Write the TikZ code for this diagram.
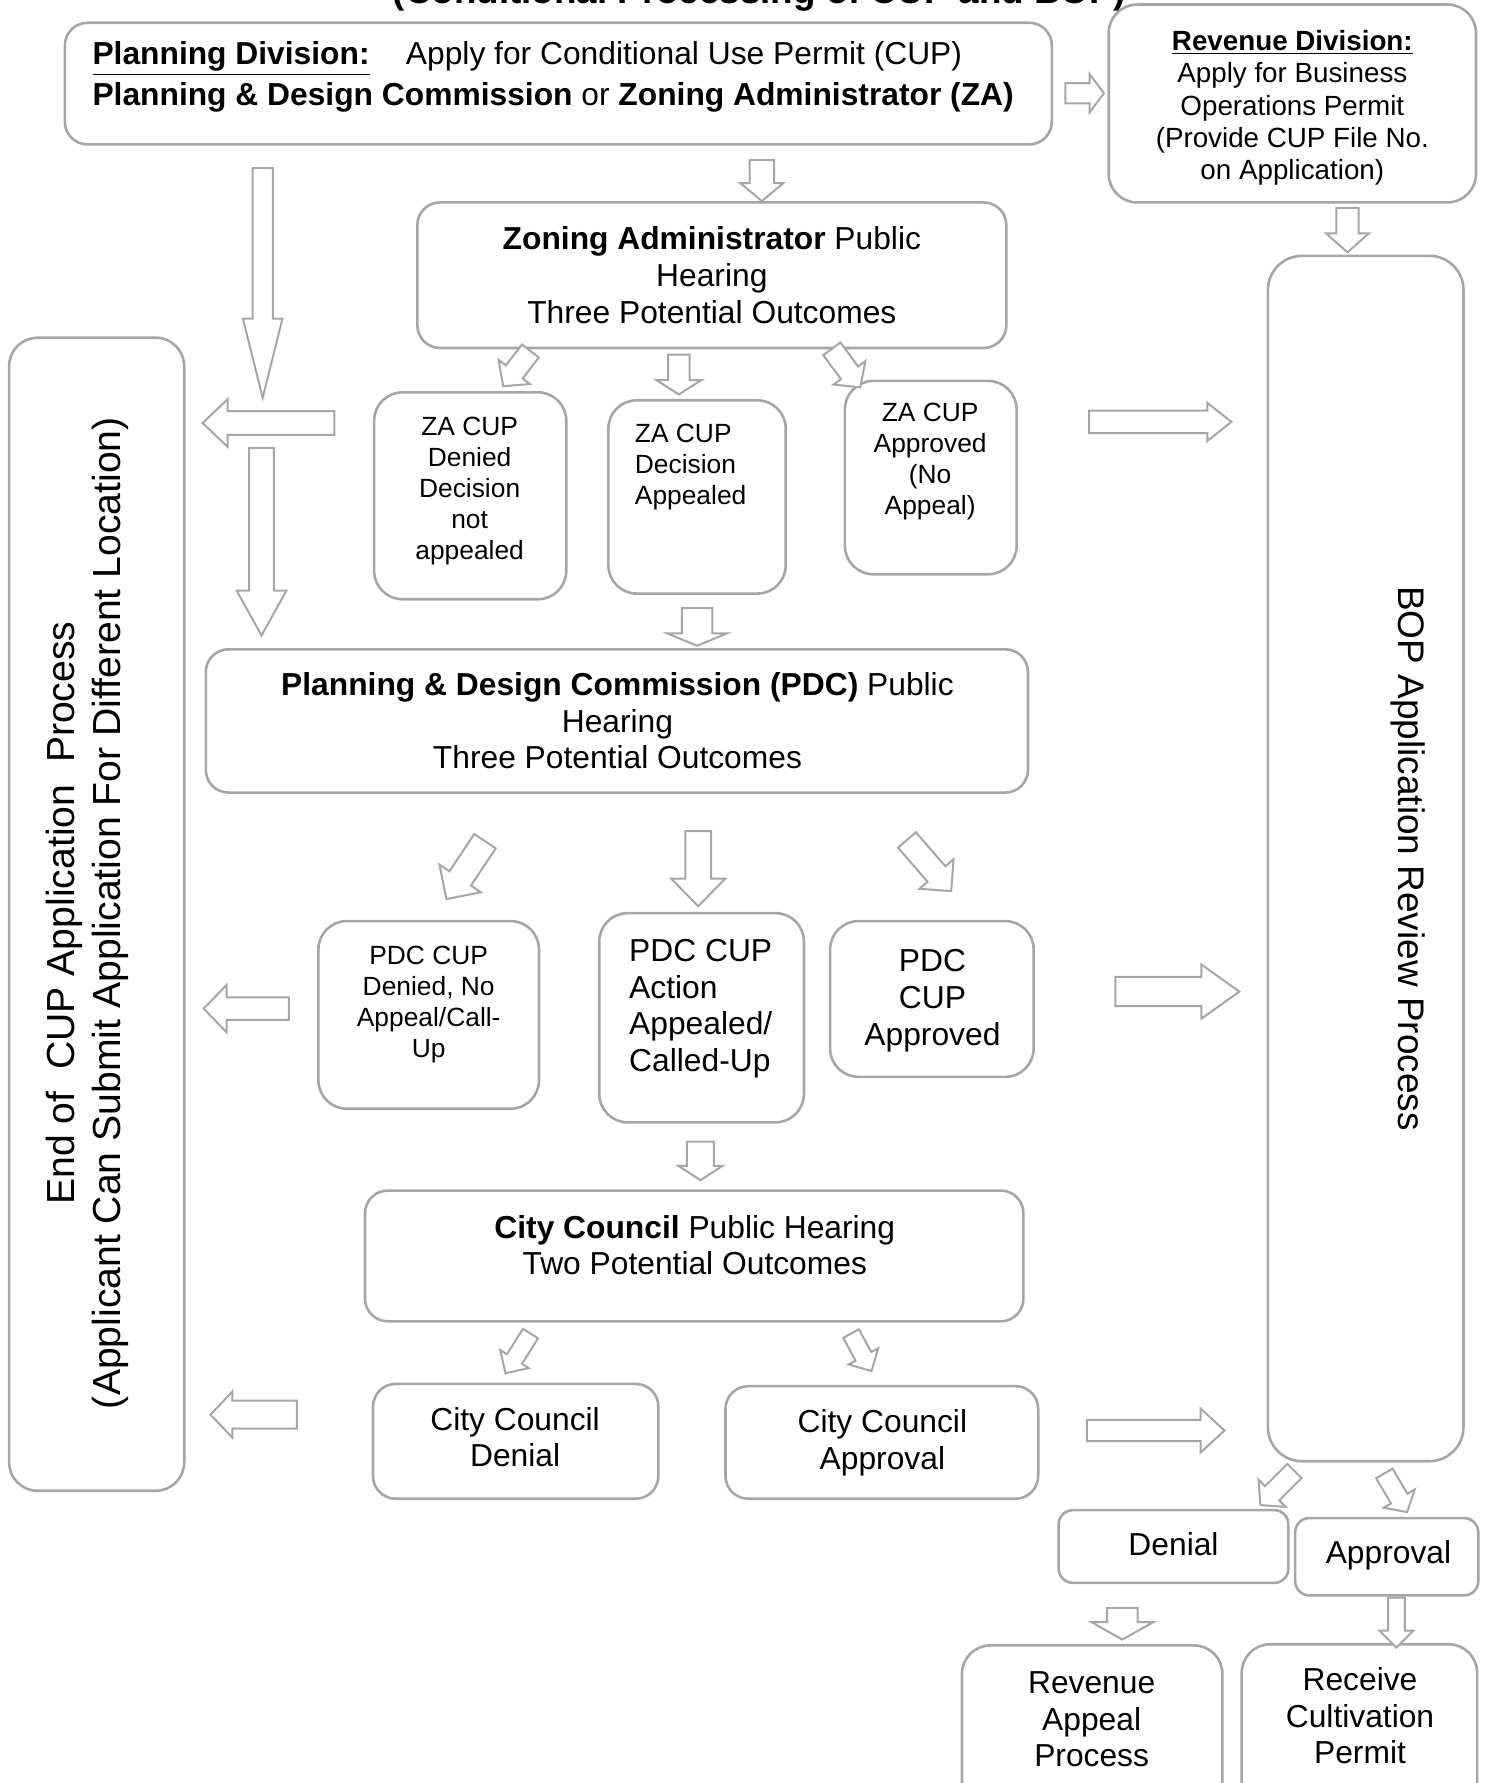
\documentclass[tikz,border=0pt]{standalone}
\usepackage{fontspec}
\setmainfont{Liberation Sans}
\usetikzlibrary{shapes.arrows,calc,fit}

\definecolor{linegray}{RGB}{166,166,166}

\newcommand{\fmain}{\fontsize{15.9}{18.3}\selectfont}
\newcommand{\fplan}{\fontsize{15.9}{20.5}\selectfont}
\newcommand{\fsmall}{\fontsize{13.2}{15.5}\selectfont}
\newcommand{\frev}{\fontsize{13.9}{16.2}\selectfont}
\newcommand{\fbig}{\fontsize{19.6}{22.8}\selectfont}
\newcommand{\fbop}{\fontsize{18.5}{21}\selectfont}
\newcommand{\ftitle}{\fontsize{18.4}{21}\selectfont\bfseries}

\tikzset{
  box/.style={draw=linegray, line width=1.3pt, rounded corners=0.4cm, inner sep=0pt},
  blockarr/.style={single arrow, draw=linegray, line width=1pt, fill=white,
    inner xsep=0pt, single arrow head indent=0pt},
  txt/.style={inner sep=0pt, align=center},
}

% hollow block arrow: name, tail, tip, head width, shaft width, tip angle
\newcommand{\barrow}[6]{%
  \path let \p1=#2, \p2=#3, \n1={atan2(\y2-\y1,\x2-\x1)},
    \n2={veclen(\x2-\x1,\y2-\y1)} in
    node[blockarr, rotate=\n1, anchor=tail, minimum height=\n2,
      inner ysep=#5*0.01cm, minimum width=#4*0.02cm,
      single arrow head extend=(#4-#5)*0.01cm,
      single arrow tip angle=#6] (#1) at #2 {};}

\begin{document}
\begin{tikzpicture}[x=0.02cm, y=-0.02cm]
\useasboundingbox (0,0) rectangle (1307,1568);
\clip (0,0) rectangle (1307,1568);

% title, cut off at the top
\node[txt, anchor=base, font=\ftitle] (title) at (668,3) {(Conditional Processing of CUP and BOP)};

% boxes
\node[box, fit={(57,20) (925,127)}] (plan) {};
\node[box, rounded corners=0.5cm, fit={(975,4) (1298,178)}] (rev) {};
\node[box, fit={(367,178) (885,306)}] (za) {};
\node[box, rounded corners=0.5cm, fit={(329,345) (498,527)}] (zaden) {};
\node[box, rounded corners=0.5cm, fit={(535,352) (691,522)}] (zaapp) {};
\node[box, rounded corners=0.5cm, fit={(743,335) (894,505)}] (zaok) {};
\node[box, fit={(181,571) (904,697)}] (pdc) {};
\node[box, rounded corners=0.5cm, fit={(280,810) (474,975)}] (pdcden) {};
\node[box, rounded corners=0.5cm, fit={(527,803) (707,987)}] (pdcapp) {};
\node[box, rounded corners=0.5cm, fit={(730,810) (909,947)}] (pdcok) {};
\node[box, fit={(321,1047) (900,1162)}] (cc) {};
\node[box, fit={(328,1217) (579,1318)}] (ccden) {};
\node[box, fit={(638,1219) (913,1318)}] (ccok) {};
\node[box, rounded corners=0.5cm, fit={(8,297) (162,1311)}] (endbox) {};
\node[box, rounded corners=0.6cm, fit={(1115,225) (1287,1285)}] (bop) {};
\node[box, rounded corners=0.25cm, fit={(931,1328) (1133,1392)}] (den) {};
\node[box, rounded corners=0.25cm, fit={(1139,1335) (1300,1403)}] (appr) {};
\node[box, rounded corners=0.5cm, fit={(846,1447) (1075,1620)}] (revapp) {};
\node[box, rounded corners=0.5cm, fit={(1092,1446) (1299,1620)}] (recv) {};

% texts
\node[txt, anchor=west, align=left, font=\fplan] (plan-t) at (81,68)
  {\textbf{\underline{Planning Division:}}\hspace{0.64cm}Apply for Conditional Use Permit (CUP)\\
   \textbf{Planning \& Design Commission} or \textbf{Zoning Administrator (ZA)}};
\node[txt, font=\frev] (rev-t) at (1136.5,95)
  {\textbf{\underline{Revenue Division:}}\\Apply for Business\\Operations Permit\\(Provide CUP File No.\\on Application)};
\node[txt, font=\fmain] (za-t) at (626,242)
  {\textbf{Zoning Administrator} Public\\Hearing\\Three Potential Outcomes};
\node[txt, font=\fsmall] (zaden-t) at (413,432) {ZA CUP\\Denied\\Decision\\not\\appealed};
\node[txt, anchor=west, align=left, font=\fsmall] (zaapp-t) at (558,411) {ZA CUP\\Decision\\Appealed};
\node[txt, font=\fsmall] (zaok-t) at (818,406) {ZA CUP\\Approved\\(No\\Appeal)};
\node[txt, font=\fmain] (pdc-t) at (543,634)
  {\textbf{Planning \& Design Commission (PDC)} Public\\Hearing\\Three Potential Outcomes};
\node[txt, font=\fsmall] (pdcden-t) at (377,883) {PDC CUP\\Denied, No\\Appeal/Call-\\Up};
\node[txt, anchor=west, align=left, font=\fmain] (pdcapp-t) at (553,887) {PDC CUP\\Action\\Appealed/\\Called-Up};
\node[txt, font=\fmain] (pdcok-t) at (820,880) {PDC\\CUP\\Approved};
\node[txt, font=\fmain] (cc-t) at (611,1095) {\textbf{City Council} Public Hearing\\Two Potential Outcomes};
\node[txt, font=\fmain] (ccden-t) at (453,1264) {City Council\\Denial};
\node[txt, font=\fmain] (ccok-t) at (776,1269) {City Council\\Approval};
\node[txt, rotate=90, font=\fbig] (end-t) at (77,803)
  {End of\ \ CUP Application\ \ Process\\(Applicant Can Submit Application For Different Location)};
\node[txt, rotate=-90, font=\fbop] (bop-t) at (1238,755) {BOP Application Review Process};
\node[txt, font=\fmain] (den-t) at (1032,1358) {Denial};
\node[txt, font=\fmain] (appr-t) at (1221,1368) {Approval};
\node[txt, font=\fmain] (revapp-t) at (960,1512) {Revenue\\Appeal\\Process};
\node[txt, font=\fmain] (recv-t) at (1196,1509) {Receive\\Cultivation\\Permit};

% block arrows
\barrow{a-rev}{(936,82)}{(970,82)}{32}{16}{106}
\barrow{a-za}{(670,140)}{(670,176)}{36}{20}{100}
\barrow{a-bop}{(1185,182)}{(1185,221)}{36}{18}{97}
\barrow{a-long}{(231,147)}{(231,349)}{33}{16}{28}
\barrow{a-end1}{(295,372)}{(179,372)}{40}{19}{87}
\barrow{a-pdcl}{(230,393)}{(230,558)}{42}{20}{58}

\barrow{a-zaden}{(467,308)}{(443,339)}{33}{17}{95}
\barrow{a-zaapp}{(597,311)}{(597,346)}{38}{17}{115}
\barrow{a-zaok}{(731,306)}{(756,340)}{33}{17}{95}
\barrow{a-bop1}{(957,371)}{(1082,371)}{32}{18}{77}
\barrow{a-pdc}{(613,534)}{(613,567)}{51}{25}{135}

\barrow{a-pdcden}{(427,739)}{(393,790)}{42}{21}{90}
\barrow{a-pdcapp}{(614,730)}{(614,796)}{46}{21}{89}
\barrow{a-pdcok}{(797,738)}{(836,783)}{38}{19}{90}
\barrow{a-end2}{(255,887)}{(180,887)}{40}{18}{92}
\barrow{a-bop2}{(980,872)}{(1089,872)}{46}{24}{71}
\barrow{a-cc}{(616,1003)}{(616,1037)}{37}{22}{114}

\barrow{a-ccden}{(467,1172)}{(445,1207)}{28}{14}{90}
\barrow{a-ccok}{(748,1172)}{(766,1205)}{28}{14}{90}
\barrow{a-end3}{(262,1244)}{(186,1244)}{39}{23}{93}
\barrow{a-bop3}{(955,1258)}{(1076,1258)}{37}{17}{85}

\barrow{a-den}{(1139,1293)}{(1109,1323)}{32}{16}{98}
\barrow{a-appr}{(1217,1295)}{(1237,1329)}{30}{15}{98}
\barrow{a-revapp}{(987,1413)}{(987,1441)}{53}{25}{121}
\barrow{a-recv}{(1228,1404)}{(1228,1448)}{28}{13}{90}
\end{tikzpicture}
\end{document}
